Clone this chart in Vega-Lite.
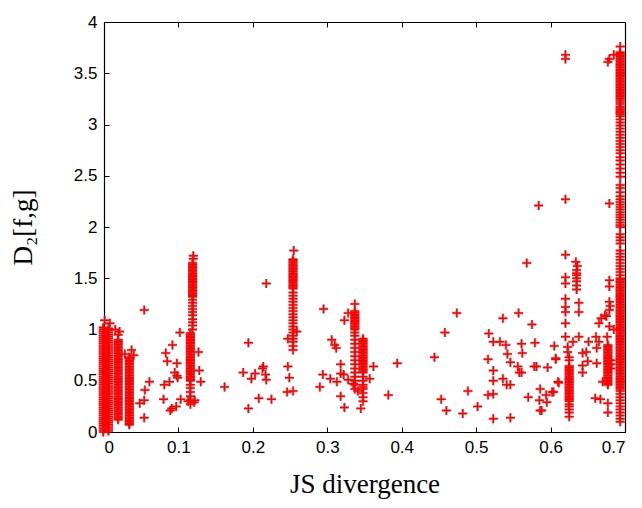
{
  "$schema": "https://vega.github.io/schema/vega-lite/v6.json",
  "width": 521,
  "height": 410,
  "autosize": {"type": "none"},
  "padding": {"left": 104, "top": 22, "right": 17, "bottom": 76},
  "background": "white",
  "config": {
    "view": {"stroke": null},
    "axis": {
      "domain": true, "domainColor": "#000", "domainWidth": 1.2,
      "ticks": true, "tickColor": "#000", "tickSize": -5, "tickWidth": 1,
      "grid": false, "zindex": 1,
      "labelFont": "Liberation Sans", "labelFontSize": 17, "labelColor": "#000",
      "titleFont": "Liberation Serif", "titleFontSize": 27, "titleFontWeight": "normal", "titleColor": "#000"
    }
  },
  "data": {"values": [
    {"x":-0.001,"y":0},{"x":-0.001,"y":0.02},{"x":-0.001,"y":0.04},{"x":-0.001,"y":0.06},{"x":-0.001,"y":0.08},{"x":-0.001,"y":0.1},{"x":-0.001,"y":0.12},{"x":-0.001,"y":0.14},{"x":-0.001,"y":0.16},{"x":-0.001,"y":0.18},{"x":-0.001,"y":0.2},{"x":-0.001,"y":0.22},{"x":-0.001,"y":0.24},{"x":-0.001,"y":0.26},{"x":-0.001,"y":0.28},{"x":-0.001,"y":0.3},{"x":-0.001,"y":0.32},{"x":-0.001,"y":0.34},{"x":-0.001,"y":0.36},{"x":-0.001,"y":0.38},{"x":-0.001,"y":0.4},{"x":-0.001,"y":0.42},{"x":-0.001,"y":0.44},{"x":-0.001,"y":0.46},{"x":-0.001,"y":0.48},{"x":-0.001,"y":0.5},{"x":-0.001,"y":0.52},{"x":-0.001,"y":0.54},{"x":-0.001,"y":0.56},{"x":-0.001,"y":0.58},{"x":-0.001,"y":0.6},{"x":-0.001,"y":0.62},{"x":-0.001,"y":0.64},{"x":-0.001,"y":0.66},{"x":-0.001,"y":0.68},{"x":-0.001,"y":0.7},{"x":-0.001,"y":0.72},{"x":-0.001,"y":0.74},{"x":-0.001,"y":0.76},{"x":-0.001,"y":0.78},{"x":-0.001,"y":0.8},{"x":-0.001,"y":0.82},{"x":-0.001,"y":0.84},{"x":-0.001,"y":0.86},{"x":-0.001,"y":0.88},{"x":-0.001,"y":0.9},{"x":-0.001,"y":0.92},{"x":-0.001,"y":0.94},{"x":-0.001,"y":0.96},{"x":-0.001,"y":0.98},{"x":-0.001,"y":1},{"x":-0.001,"y":1.02},
    {"x":0.006,"y":0.01},{"x":0.006,"y":0.03},{"x":0.006,"y":0.05},{"x":0.006,"y":0.07},{"x":0.006,"y":0.09},{"x":0.006,"y":0.11},{"x":0.006,"y":0.13},{"x":0.006,"y":0.15},{"x":0.006,"y":0.17},{"x":0.006,"y":0.19},{"x":0.006,"y":0.21},{"x":0.006,"y":0.23},{"x":0.006,"y":0.25},{"x":0.006,"y":0.27},{"x":0.006,"y":0.29},{"x":0.006,"y":0.31},{"x":0.006,"y":0.33},{"x":0.006,"y":0.35},{"x":0.006,"y":0.37},{"x":0.006,"y":0.39},{"x":0.006,"y":0.41},{"x":0.006,"y":0.43},{"x":0.006,"y":0.45},{"x":0.006,"y":0.47},{"x":0.006,"y":0.49},{"x":0.006,"y":0.51},{"x":0.006,"y":0.53},{"x":0.006,"y":0.55},{"x":0.006,"y":0.57},{"x":0.006,"y":0.59},{"x":0.006,"y":0.61},{"x":0.006,"y":0.63},{"x":0.006,"y":0.65},{"x":0.006,"y":0.67},{"x":0.006,"y":0.69},{"x":0.006,"y":0.71},{"x":0.006,"y":0.73},{"x":0.006,"y":0.75},{"x":0.006,"y":0.77},{"x":0.006,"y":0.79},{"x":0.006,"y":0.81},{"x":0.006,"y":0.83},{"x":0.006,"y":0.85},{"x":0.006,"y":0.87},{"x":0.006,"y":0.89},{"x":0.006,"y":0.91},{"x":0.006,"y":0.93},{"x":0.006,"y":0.95},{"x":0.006,"y":0.97},{"x":0.006,"y":0.99},{"x":0.006,"y":1.01},
    {"x":0.001,"y":1.09},{"x":0.008,"y":1.06},{"x":0.015,"y":1.0},{"x":0.019,"y":0.95},{"x":0.028,"y":0.76},{"x":0.04,"y":0.75},
    {"x":0.019,"y":0.12},{"x":0.019,"y":0.135},{"x":0.019,"y":0.15},{"x":0.019,"y":0.165},{"x":0.019,"y":0.18},{"x":0.019,"y":0.195},{"x":0.019,"y":0.21},{"x":0.019,"y":0.225},{"x":0.019,"y":0.24},{"x":0.019,"y":0.255},{"x":0.019,"y":0.27},{"x":0.019,"y":0.285},{"x":0.019,"y":0.3},{"x":0.019,"y":0.315},{"x":0.019,"y":0.33},{"x":0.019,"y":0.345},{"x":0.019,"y":0.36},{"x":0.019,"y":0.375},{"x":0.019,"y":0.39},{"x":0.019,"y":0.405},{"x":0.019,"y":0.42},{"x":0.019,"y":0.435},{"x":0.019,"y":0.45},{"x":0.019,"y":0.465},{"x":0.019,"y":0.48},{"x":0.019,"y":0.495},{"x":0.019,"y":0.51},{"x":0.019,"y":0.525},{"x":0.019,"y":0.54},{"x":0.019,"y":0.555},{"x":0.019,"y":0.57},{"x":0.019,"y":0.585},{"x":0.019,"y":0.6},{"x":0.019,"y":0.615},{"x":0.019,"y":0.63},{"x":0.019,"y":0.645},{"x":0.019,"y":0.66},{"x":0.019,"y":0.675},{"x":0.019,"y":0.69},{"x":0.019,"y":0.705},{"x":0.019,"y":0.72},{"x":0.019,"y":0.735},{"x":0.019,"y":0.75},{"x":0.019,"y":0.765},{"x":0.019,"y":0.78},{"x":0.019,"y":0.795},{"x":0.019,"y":0.81},{"x":0.019,"y":0.825},{"x":0.019,"y":0.84},{"x":0.019,"y":0.855},{"x":0.019,"y":0.87},{"x":0.019,"y":0.885},{"x":0.019,"y":0.9},
    {"x":0.034,"y":0.07},{"x":0.034,"y":0.085},{"x":0.034,"y":0.1},{"x":0.034,"y":0.115},{"x":0.034,"y":0.13},{"x":0.034,"y":0.145},{"x":0.034,"y":0.16},{"x":0.034,"y":0.175},{"x":0.034,"y":0.19},{"x":0.034,"y":0.205},{"x":0.034,"y":0.22},{"x":0.034,"y":0.235},{"x":0.034,"y":0.25},{"x":0.034,"y":0.265},{"x":0.034,"y":0.28},{"x":0.034,"y":0.295},{"x":0.034,"y":0.31},{"x":0.034,"y":0.325},{"x":0.034,"y":0.34},{"x":0.034,"y":0.355},{"x":0.034,"y":0.37},{"x":0.034,"y":0.385},{"x":0.034,"y":0.4},{"x":0.034,"y":0.415},{"x":0.034,"y":0.43},{"x":0.034,"y":0.445},{"x":0.034,"y":0.46},{"x":0.034,"y":0.475},{"x":0.034,"y":0.49},{"x":0.034,"y":0.505},{"x":0.034,"y":0.52},{"x":0.034,"y":0.535},{"x":0.034,"y":0.55},{"x":0.034,"y":0.565},{"x":0.034,"y":0.58},{"x":0.034,"y":0.595},{"x":0.034,"y":0.61},{"x":0.034,"y":0.625},{"x":0.034,"y":0.64},{"x":0.034,"y":0.655},{"x":0.034,"y":0.67},{"x":0.034,"y":0.685},{"x":0.034,"y":0.7},{"x":0.034,"y":0.715},{"x":0.034,"y":0.73},
    {"x":0.119,"y":1.32},{"x":0.119,"y":1.335},{"x":0.119,"y":1.35},{"x":0.119,"y":1.365},{"x":0.119,"y":1.38},{"x":0.119,"y":1.395},{"x":0.119,"y":1.41},{"x":0.119,"y":1.425},{"x":0.119,"y":1.44},{"x":0.119,"y":1.455},{"x":0.119,"y":1.47},{"x":0.119,"y":1.485},{"x":0.119,"y":1.5},{"x":0.119,"y":1.515},{"x":0.119,"y":1.53},{"x":0.119,"y":1.545},{"x":0.119,"y":1.56},{"x":0.119,"y":1.575},{"x":0.119,"y":1.59},{"x":0.119,"y":1.605},{"x":0.119,"y":1.62},{"x":0.119,"y":1.635},{"x":0.119,"y":1.65},
    {"x":0.119,"y":1.0},{"x":0.119,"y":1.04},{"x":0.119,"y":1.07},{"x":0.119,"y":1.1},{"x":0.119,"y":1.14},{"x":0.119,"y":1.17},{"x":0.119,"y":1.2},{"x":0.119,"y":1.23},{"x":0.119,"y":1.26},{"x":0.119,"y":1.29},{"x":0.12,"y":1.69},{"x":0.12,"y":1.72},
    {"x":0.116,"y":0.5},{"x":0.116,"y":0.515},{"x":0.116,"y":0.53},{"x":0.116,"y":0.545},{"x":0.116,"y":0.56},{"x":0.116,"y":0.575},{"x":0.116,"y":0.59},{"x":0.116,"y":0.605},{"x":0.116,"y":0.62},{"x":0.116,"y":0.635},{"x":0.116,"y":0.65},{"x":0.116,"y":0.665},{"x":0.116,"y":0.68},{"x":0.116,"y":0.695},{"x":0.116,"y":0.71},{"x":0.116,"y":0.725},{"x":0.116,"y":0.74},{"x":0.116,"y":0.755},{"x":0.116,"y":0.77},{"x":0.116,"y":0.785},{"x":0.116,"y":0.8},{"x":0.116,"y":0.815},{"x":0.116,"y":0.83},{"x":0.116,"y":0.845},{"x":0.116,"y":0.86},{"x":0.116,"y":0.875},{"x":0.116,"y":0.89},{"x":0.116,"y":0.905},{"x":0.116,"y":0.92},{"x":0.116,"y":0.935},{"x":0.116,"y":0.95},{"x":0.116,"y":0.965},
    {"x":0.116,"y":0.27},{"x":0.116,"y":0.31},{"x":0.116,"y":0.35},{"x":0.116,"y":0.39},{"x":0.116,"y":0.43},{"x":0.116,"y":0.46},{"x":0.113,"y":0.3},{"x":0.121,"y":0.29},
    {"x":0.254,"y":1.4},{"x":0.254,"y":1.415},{"x":0.254,"y":1.43},{"x":0.254,"y":1.445},{"x":0.254,"y":1.46},{"x":0.254,"y":1.475},{"x":0.254,"y":1.49},{"x":0.254,"y":1.505},{"x":0.254,"y":1.52},{"x":0.254,"y":1.535},{"x":0.254,"y":1.55},{"x":0.254,"y":1.565},{"x":0.254,"y":1.58},{"x":0.254,"y":1.595},{"x":0.254,"y":1.61},{"x":0.254,"y":1.625},{"x":0.254,"y":1.64},{"x":0.254,"y":1.655},{"x":0.254,"y":1.67},{"x":0.254,"y":1.685},
    {"x":0.254,"y":0.8},{"x":0.254,"y":0.84},{"x":0.254,"y":0.88},{"x":0.254,"y":0.91},{"x":0.254,"y":0.94},{"x":0.254,"y":0.97},{"x":0.254,"y":1.0},{"x":0.254,"y":1.03},{"x":0.254,"y":1.06},{"x":0.254,"y":1.09},{"x":0.254,"y":1.12},{"x":0.254,"y":1.15},{"x":0.254,"y":1.18},{"x":0.254,"y":1.21},{"x":0.254,"y":1.24},{"x":0.254,"y":1.27},{"x":0.254,"y":1.3},{"x":0.254,"y":1.33},{"x":0.254,"y":1.36},{"x":0.255,"y":1.77},
    {"x":0.247,"y":0.64},{"x":0.249,"y":0.53},{"x":0.246,"y":0.39},{"x":0.254,"y":0.4},{"x":0.259,"y":0.98},{"x":0.247,"y":0.91},
    {"x":0.337,"y":1.0},{"x":0.337,"y":1.015},{"x":0.337,"y":1.03},{"x":0.337,"y":1.045},{"x":0.337,"y":1.06},{"x":0.337,"y":1.075},{"x":0.337,"y":1.09},{"x":0.337,"y":1.105},{"x":0.337,"y":1.12},{"x":0.337,"y":1.135},{"x":0.337,"y":1.15},{"x":0.337,"y":1.165},{"x":0.337,"y":1.18},
    {"x":0.337,"y":0.42},{"x":0.337,"y":0.46},{"x":0.337,"y":0.5},{"x":0.337,"y":0.54},{"x":0.337,"y":0.58},{"x":0.337,"y":0.62},{"x":0.337,"y":0.66},{"x":0.337,"y":0.7},{"x":0.337,"y":0.74},{"x":0.337,"y":0.78},{"x":0.337,"y":0.82},{"x":0.337,"y":0.86},{"x":0.337,"y":0.9},{"x":0.337,"y":0.94},{"x":0.337,"y":0.97},{"x":0.337,"y":1.25},
    {"x":0.348,"y":0.58},{"x":0.348,"y":0.595},{"x":0.348,"y":0.61},{"x":0.348,"y":0.625},{"x":0.348,"y":0.64},{"x":0.348,"y":0.655},{"x":0.348,"y":0.67},{"x":0.348,"y":0.685},{"x":0.348,"y":0.7},{"x":0.348,"y":0.715},{"x":0.348,"y":0.73},{"x":0.348,"y":0.745},{"x":0.348,"y":0.76},{"x":0.348,"y":0.775},{"x":0.348,"y":0.79},{"x":0.348,"y":0.805},{"x":0.348,"y":0.82},{"x":0.348,"y":0.835},{"x":0.348,"y":0.85},{"x":0.348,"y":0.865},{"x":0.348,"y":0.88},{"x":0.348,"y":0.895},{"x":0.348,"y":0.91},
    {"x":0.348,"y":0.3},{"x":0.348,"y":0.34},{"x":0.348,"y":0.38},{"x":0.348,"y":0.42},{"x":0.348,"y":0.44},{"x":0.348,"y":0.46},{"x":0.348,"y":0.5},{"x":0.348,"y":0.54},
    {"x":0.625,"y":0.3},{"x":0.625,"y":0.315},{"x":0.625,"y":0.33},{"x":0.625,"y":0.345},{"x":0.625,"y":0.36},{"x":0.625,"y":0.375},{"x":0.625,"y":0.39},{"x":0.625,"y":0.405},{"x":0.625,"y":0.42},{"x":0.625,"y":0.435},{"x":0.625,"y":0.45},{"x":0.625,"y":0.465},{"x":0.625,"y":0.48},{"x":0.625,"y":0.495},{"x":0.625,"y":0.51},{"x":0.625,"y":0.525},{"x":0.625,"y":0.54},{"x":0.625,"y":0.555},{"x":0.625,"y":0.57},{"x":0.625,"y":0.585},{"x":0.625,"y":0.6},{"x":0.625,"y":0.615},{"x":0.625,"y":0.63},{"x":0.625,"y":0.645},
    {"x":0.625,"y":0.15},{"x":0.625,"y":0.19},{"x":0.625,"y":0.22},{"x":0.625,"y":0.25},{"x":0.625,"y":0.27},
    {"x":0.62,"y":3.68},{"x":0.62,"y":3.64},{"x":0.62,"y":2.27},{"x":0.62,"y":1.73},{"x":0.62,"y":1.51},{"x":0.62,"y":1.45},{"x":0.62,"y":1.3},{"x":0.62,"y":1.22},{"x":0.62,"y":1.17},{"x":0.62,"y":1.06},{"x":0.62,"y":0.93},{"x":0.623,"y":0.83},{"x":0.623,"y":0.78},{"x":0.625,"y":0.73},{"x":0.625,"y":0.7},
    {"x":0.634,"y":1.66},{"x":0.636,"y":1.62},{"x":0.635,"y":1.58},{"x":0.635,"y":1.55},{"x":0.635,"y":1.53},{"x":0.635,"y":1.5},{"x":0.635,"y":1.47},{"x":0.635,"y":1.43},{"x":0.635,"y":1.39},{"x":0.638,"y":1.26},{"x":0.638,"y":1.17},{"x":0.638,"y":0.93},
    {"x":0.677,"y":0.46},{"x":0.677,"y":0.475},{"x":0.677,"y":0.49},{"x":0.677,"y":0.505},{"x":0.677,"y":0.52},{"x":0.677,"y":0.535},{"x":0.677,"y":0.55},{"x":0.677,"y":0.565},{"x":0.677,"y":0.58},{"x":0.677,"y":0.595},{"x":0.677,"y":0.61},{"x":0.677,"y":0.625},{"x":0.677,"y":0.64},{"x":0.677,"y":0.655},{"x":0.677,"y":0.67},{"x":0.677,"y":0.685},{"x":0.677,"y":0.7},{"x":0.677,"y":0.715},{"x":0.677,"y":0.73},{"x":0.677,"y":0.745},{"x":0.677,"y":0.76},{"x":0.677,"y":0.775},{"x":0.677,"y":0.79},{"x":0.677,"y":0.805},{"x":0.677,"y":0.82},{"x":0.677,"y":0.835},{"x":0.677,"y":0.85},{"x":0.681,"y":0.62},{"x":0.681,"y":0.66},{"x":0.681,"y":0.7},
    {"x":0.679,"y":3.64},{"x":0.677,"y":3.61},{"x":0.685,"y":3.68},{"x":0.679,"y":2.23},{"x":0.679,"y":1.48},{"x":0.679,"y":1.42},{"x":0.679,"y":1.27},{"x":0.679,"y":1.19},{"x":0.675,"y":1.13},{"x":0.668,"y":1.11},{"x":0.665,"y":1.06},{"x":0.679,"y":1.03},{"x":0.676,"y":0.93},{"x":0.661,"y":0.93},{"x":0.651,"y":0.88},{"x":0.665,"y":0.88},{"x":0.63,"y":0.88},{"x":0.662,"y":0.82},{"x":0.643,"y":0.77},{"x":0.648,"y":0.78},{"x":0.65,"y":0.69},{"x":0.643,"y":0.65},{"x":0.643,"y":0.58},{"x":0.662,"y":0.67},{"x":0.67,"y":0.49},{"x":0.66,"y":0.33},{"x":0.667,"y":0.32},{"x":0.677,"y":0.28},{"x":0.677,"y":0.19},{"x":0.673,"y":1.14},{"x":0.68,"y":1.23},{"x":0.685,"y":1.0},
    {"x":0.6935,"y":0.42},{"x":0.6935,"y":0.435},{"x":0.6935,"y":0.45},{"x":0.6935,"y":0.465},{"x":0.6935,"y":0.48},{"x":0.6935,"y":0.495},{"x":0.6935,"y":0.51},{"x":0.6935,"y":0.525},{"x":0.6935,"y":0.54},{"x":0.6935,"y":0.555},{"x":0.6935,"y":0.57},{"x":0.6935,"y":0.585},{"x":0.6935,"y":0.6},{"x":0.6935,"y":0.615},{"x":0.6935,"y":0.63},{"x":0.6935,"y":0.645},{"x":0.6935,"y":0.66},{"x":0.6935,"y":0.675},{"x":0.6935,"y":0.69},{"x":0.6935,"y":0.705},{"x":0.6935,"y":0.72},{"x":0.6935,"y":0.735},{"x":0.6935,"y":0.75},{"x":0.6935,"y":0.765},{"x":0.6935,"y":0.78},{"x":0.6935,"y":0.795},{"x":0.6935,"y":0.81},{"x":0.6935,"y":0.825},{"x":0.6935,"y":0.84},{"x":0.6935,"y":0.855},{"x":0.6935,"y":0.87},{"x":0.6935,"y":0.885},{"x":0.6935,"y":0.9},{"x":0.6935,"y":0.915},{"x":0.6935,"y":0.93},{"x":0.6935,"y":0.945},{"x":0.6935,"y":0.96},{"x":0.6935,"y":0.975},{"x":0.6935,"y":0.99},{"x":0.6935,"y":1.005},{"x":0.6935,"y":1.02},{"x":0.6935,"y":1.035},{"x":0.6935,"y":1.05},{"x":0.6935,"y":1.065},{"x":0.6935,"y":1.08},{"x":0.6935,"y":1.095},{"x":0.6935,"y":1.11},{"x":0.6935,"y":1.125},{"x":0.6935,"y":1.14},{"x":0.6935,"y":1.155},{"x":0.6935,"y":1.17},{"x":0.6935,"y":1.185},{"x":0.6935,"y":1.2},{"x":0.6935,"y":1.215},{"x":0.6935,"y":1.23},{"x":0.6935,"y":1.245},{"x":0.6935,"y":1.26},{"x":0.6935,"y":1.275},{"x":0.6935,"y":1.29},{"x":0.6935,"y":1.305},{"x":0.6935,"y":1.32},{"x":0.6935,"y":1.335},{"x":0.6935,"y":1.35},{"x":0.6935,"y":1.365},{"x":0.6935,"y":1.38},{"x":0.6935,"y":1.395},{"x":0.6935,"y":1.41},{"x":0.6935,"y":1.425},{"x":0.6935,"y":1.44},{"x":0.6935,"y":1.455},{"x":0.6935,"y":1.47},{"x":0.6935,"y":1.485},{"x":0.6935,"y":1.5},
    {"x":0.6935,"y":0.1},{"x":0.6935,"y":0.13},{"x":0.6935,"y":0.16},{"x":0.6935,"y":0.19},{"x":0.6935,"y":0.22},{"x":0.6935,"y":0.25},{"x":0.6935,"y":0.28},{"x":0.6935,"y":0.31},{"x":0.6935,"y":0.34},{"x":0.6935,"y":0.37},{"x":0.6935,"y":0.4},
    {"x":0.6935,"y":1.53},{"x":0.6935,"y":1.56},{"x":0.6935,"y":1.59},{"x":0.6935,"y":1.62},{"x":0.6935,"y":1.65},{"x":0.6935,"y":1.68},{"x":0.6935,"y":1.71},{"x":0.6935,"y":1.74},{"x":0.6935,"y":1.77},{"x":0.6935,"y":1.84},{"x":0.6935,"y":1.87},{"x":0.6935,"y":1.9},{"x":0.6935,"y":1.93},
    {"x":0.6935,"y":2.0},{"x":0.6935,"y":2.02},{"x":0.6935,"y":2.045},{"x":0.6935,"y":2.07},{"x":0.6935,"y":2.095},{"x":0.6935,"y":2.12},{"x":0.6935,"y":2.145},{"x":0.6935,"y":2.17},{"x":0.6935,"y":2.195},{"x":0.6935,"y":2.22},{"x":0.6935,"y":2.245},{"x":0.6935,"y":2.27},{"x":0.6935,"y":2.3},{"x":0.6935,"y":2.34},{"x":0.6935,"y":2.38},{"x":0.6935,"y":2.41},
    {"x":0.6935,"y":2.49},{"x":0.6935,"y":2.53},{"x":0.6935,"y":2.57},{"x":0.6935,"y":2.61},{"x":0.6935,"y":2.65},{"x":0.6935,"y":2.68},
    {"x":0.6935,"y":2.72},{"x":0.6935,"y":2.75},{"x":0.6935,"y":2.78},{"x":0.6935,"y":2.81},{"x":0.6935,"y":2.84},{"x":0.6935,"y":2.87},{"x":0.6935,"y":2.9},{"x":0.6935,"y":2.93},{"x":0.6935,"y":2.96},{"x":0.6935,"y":2.99},{"x":0.6935,"y":3.02},{"x":0.6935,"y":3.05},{"x":0.6935,"y":3.08},
    {"x":0.6935,"y":3.1},{"x":0.6935,"y":3.115},{"x":0.6935,"y":3.13},{"x":0.6935,"y":3.145},{"x":0.6935,"y":3.16},{"x":0.6935,"y":3.175},{"x":0.6935,"y":3.2},{"x":0.6935,"y":3.22},
    {"x":0.6935,"y":3.24},{"x":0.6935,"y":3.255},{"x":0.6935,"y":3.27},{"x":0.6935,"y":3.285},{"x":0.6935,"y":3.3},{"x":0.6935,"y":3.315},{"x":0.6935,"y":3.33},{"x":0.6935,"y":3.345},{"x":0.6935,"y":3.36},{"x":0.6935,"y":3.375},{"x":0.6935,"y":3.39},{"x":0.6935,"y":3.405},{"x":0.6935,"y":3.42},{"x":0.6935,"y":3.435},{"x":0.6935,"y":3.45},{"x":0.6935,"y":3.465},{"x":0.6935,"y":3.48},{"x":0.6935,"y":3.495},{"x":0.6935,"y":3.51},{"x":0.6935,"y":3.525},{"x":0.6935,"y":3.54},{"x":0.6935,"y":3.555},{"x":0.6935,"y":3.57},{"x":0.6935,"y":3.585},{"x":0.6935,"y":3.6},{"x":0.6935,"y":3.615},{"x":0.6935,"y":3.63},{"x":0.6935,"y":3.645},{"x":0.6935,"y":3.66},{"x":0.6935,"y":3.675},{"x":0.6935,"y":3.69},{"x":0.6935,"y":3.705},{"x":0.6935,"y":3.76},
    {"x":0.054,"y":1.19},{"x":0.021,"y":0.98},{"x":0.037,"y":0.8},{"x":0.061,"y":0.49},{"x":0.055,"y":0.41},{"x":0.054,"y":0.31},{"x":0.048,"y":0.28},{"x":0.054,"y":0.14},
    {"x":0.102,"y":0.97},{"x":0.092,"y":0.85},{"x":0.083,"y":0.77},{"x":0.085,"y":0.69},{"x":0.098,"y":0.67},{"x":0.095,"y":0.58},{"x":0.098,"y":0.55},{"x":0.088,"y":0.49},{"x":0.081,"y":0.46},{"x":0.099,"y":0.53},{"x":0.08,"y":0.32},{"x":0.103,"y":0.32},{"x":0.091,"y":0.23},{"x":0.097,"y":0.25},{"x":0.089,"y":0.21},
    {"x":0.127,"y":0.78},{"x":0.128,"y":0.6},{"x":0.13,"y":0.49},{"x":0.122,"y":0.31},{"x":0.162,"y":0.44},
    {"x":0.194,"y":0.87},{"x":0.187,"y":0.58},{"x":0.203,"y":0.57},{"x":0.198,"y":0.52},{"x":0.213,"y":0.62},{"x":0.218,"y":0.51},{"x":0.217,"y":0.56},{"x":0.208,"y":0.33},{"x":0.225,"y":0.32},{"x":0.194,"y":0.23},{"x":0.218,"y":1.45},{"x":0.214,"y":0.64},
    {"x":0.29,"y":0.44},{"x":0.295,"y":1.2},{"x":0.323,"y":1.09},{"x":0.328,"y":1.16},{"x":0.306,"y":0.9},{"x":0.31,"y":0.85},{"x":0.312,"y":0.82},{"x":0.318,"y":0.66},{"x":0.294,"y":0.56},{"x":0.304,"y":0.52},{"x":0.313,"y":0.49},{"x":0.318,"y":0.57},{"x":0.322,"y":0.56},{"x":0.328,"y":0.51},{"x":0.335,"y":0.47},{"x":0.318,"y":0.35},{"x":0.323,"y":0.24},{"x":0.345,"y":0.23},{"x":0.362,"y":0.64},{"x":0.357,"y":0.52},{"x":0.382,"y":0.36},{"x":0.394,"y":0.67},{"x":0.341,"y":0.4},
    {"x":0.444,"y":0.73},{"x":0.474,"y":1.16},{"x":0.458,"y":0.97},{"x":0.536,"y":1.11},{"x":0.557,"y":1.16},{"x":0.575,"y":1.05},{"x":0.517,"y":0.96},{"x":0.523,"y":0.88},{"x":0.532,"y":0.88},{"x":0.54,"y":0.85},{"x":0.561,"y":0.86},{"x":0.579,"y":0.87},{"x":0.605,"y":0.84},{"x":0.542,"y":0.76},{"x":0.562,"y":0.77},{"x":0.516,"y":0.71},{"x":0.546,"y":0.68},{"x":0.556,"y":0.64},{"x":0.578,"y":0.64},{"x":0.581,"y":0.64},{"x":0.596,"y":0.63},{"x":0.607,"y":0.71},{"x":0.523,"y":0.6},{"x":0.558,"y":0.58},{"x":0.561,"y":0.58},{"x":0.536,"y":0.52},{"x":0.523,"y":0.5},{"x":0.541,"y":0.46},{"x":0.546,"y":0.46},{"x":0.489,"y":0.4},{"x":0.516,"y":0.36},{"x":0.523,"y":0.37},{"x":0.453,"y":0.32},{"x":0.57,"y":0.34},{"x":0.586,"y":0.42},{"x":0.602,"y":0.39},{"x":0.585,"y":0.31},{"x":0.594,"y":0.36},{"x":0.595,"y":0.29},{"x":0.61,"y":0.49},{"x":0.502,"y":0.25},{"x":0.46,"y":0.21},{"x":0.482,"y":0.18},{"x":0.523,"y":0.13},{"x":0.546,"y":0.14},{"x":0.586,"y":0.21},{"x":0.568,"y":1.65},{"x":0.584,"y":2.21},{"x":0.607,"y":0.72},{"x":0.611,"y":0.48},{"x":0.604,"y":0.39},{"x":0.588,"y":0.21}
  ]},
  "layer": [
    {
      "mark": {"type": "point", "shape": "M-1,0H1M0,-1V1", "size": 81, "filled": false, "stroke": "#806060", "strokeWidth": 2.8, "opacity": 0.45},
      "encoding": {
        "x": {"field": "x", "type": "quantitative", "scale": {"domain": [0, 0.7], "nice": false, "zero": false},
              "axis": {"orient": "top", "labels": false, "title": null, "values": [0, 0.1, 0.2, 0.3, 0.4, 0.5, 0.6, 0.7]}},
        "y": {"field": "y", "type": "quantitative", "scale": {"domain": [0, 4], "nice": false, "zero": false},
              "axis": {"orient": "right", "labels": false, "title": null, "values": [0, 0.5, 1, 1.5, 2, 2.5, 3, 3.5, 4]}}
      }
    },
    {
      "mark": {"type": "point", "shape": "M-1,0H1M0,-1V1", "size": 81, "filled": false, "stroke": "#ff0000", "strokeWidth": 1.5, "opacity": 1},
      "encoding": {
        "x": {"field": "x", "type": "quantitative", "scale": {"domain": [0, 0.7], "nice": false, "zero": false},
              "axis": {"orient": "bottom", "title": "JS divergence", "format": "~g", "labelPadding": 12, "titlePadding": 16, "values": [0, 0.1, 0.2, 0.3, 0.4, 0.5, 0.6, 0.7]}},
        "y": {"field": "y", "type": "quantitative", "scale": {"domain": [0, 4], "nice": false, "zero": false},
              "axis": {"orient": "left", "title": "D₂[f,g]", "format": "~g", "labelPadding": 12, "titlePadding": 36, "values": [0, 0.5, 1, 1.5, 2, 2.5, 3, 3.5, 4]}}
      }
    }
  ],
  "resolve": {"axis": {"x": "independent", "y": "independent"}}
}
